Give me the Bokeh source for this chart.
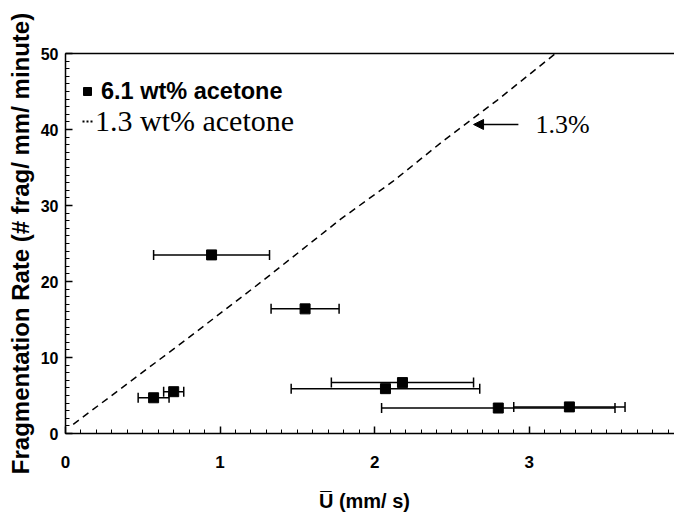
from bokeh.plotting import figure
from bokeh.models import (ColumnDataSource, Whisker, TeeHead, Arrow, NormalHead, Label,
                          LinearAxis, Legend, LegendItem, FixedTicker, Range1d)
from bokeh.embed import file_html
from bokeh.resources import INLINE

# ---- data ----
velocity = [0.57, 0.70, 0.945, 1.55, 2.07, 2.18, 2.80, 3.26]      # mm/s
frag_rate = [4.7, 5.5, 23.5, 16.4, 5.9, 6.7, 3.35, 3.5]           # # frag / mm / minute
velocity_err = [0.10, 0.065, 0.375, 0.22, 0.61, 0.46, 0.755, 0.36]

fit13_x = [0.05, 0.77, 1.27, 1.78, 2.12, 2.45, 2.79, 3.17]
fit13_y = [1.2, 12.2, 20.0, 28.2, 33.2, 38.6, 43.8, 50.0]

x_ticks = [0, 1, 2, 3, 4]
y_ticks = [0, 10, 20, 30, 40, 50]

SANS = "Liberation Sans"
SERIF = "Liberation Serif"

src = ColumnDataSource(dict(
    x=velocity, y=frag_rate,
    lo=[v - e for v, e in zip(velocity, velocity_err)],
    hi=[v + e for v, e in zip(velocity, velocity_err)],
))

p = figure(width=674, height=515, x_range=Range1d(0, 3.94), y_range=Range1d(0, 50),
           output_backend="svg", toolbar_location=None,
           min_border_left=65, min_border_right=0, min_border_top=53, min_border_bottom=82)
p.outline_line_color = None
p.grid.visible = False
p.background_fill_color = "white"
p.border_fill_color = "white"

# axes
xa = p.xaxis[0]
xa.ticker = FixedTicker(ticks=x_ticks,
                        minor_ticks=[i / 10 for i in range(x_ticks[0] * 10, x_ticks[-1] * 10 + 1)])
ya = p.yaxis[0]
ya.ticker = FixedTicker(ticks=y_ticks,
                        minor_ticks=list(range(y_ticks[0], y_ticks[-1] + 1)))
for ax in (xa, ya):
    ax.axis_line_width = 1.5
    ax.axis_line_color = "black"
    ax.major_tick_in = 7
    ax.major_tick_out = 0
    ax.minor_tick_in = 4
    ax.minor_tick_out = 0
    ax.major_tick_line_width = 1.5
    ax.minor_tick_line_width = 1
    ax.major_tick_line_color = "black"
    ax.minor_tick_line_color = "black"
    ax.major_label_text_font = SANS
    ax.major_label_text_font_style = "bold"
    ax.major_label_text_font_size = "17px"
    ax.major_label_text_color = "black"
    ax.axis_label_text_font = SANS
    ax.axis_label_text_font_style = "bold"
    ax.axis_label_text_color = "black"

xa.axis_label = "U\u0305   (mm/ s)"
xa.axis_label_text_font_size = "20px"
xa.major_label_standoff = 22
xa.axis_label_standoff = 19

ya.axis_label = "Fragmentation Rate (# frag/ mm/ minute)"
ya.axis_label_text_font_size = "24px"
ya.major_label_text_font_size = "16px"
ya.major_label_standoff = 7
ya.axis_label_standoff = 4

# top border
top = LinearAxis(ticker=FixedTicker(ticks=[]), axis_line_width=1.5, axis_line_color="black",
                 major_tick_line_color=None, minor_tick_line_color=None,
                 major_label_text_font_size="0px")
p.add_layout(top, "above")

# dashed 1.3 wt% line
line_r = p.line(fit13_x, fit13_y, line_color="black", line_width=1.5, line_dash="7 5")
# dotted sample of the same series, used only for the legend
dots_r = p.line(fit13_x, fit13_y, line_color="black", line_width=1.8, line_dash="2 2",
                visible=False)

# error bars + squares (6.1 wt%)
wh = Whisker(source=src, base="y", lower="lo", upper="hi", dimension="width",
             line_color="black", line_width=1.5,
             lower_head=TeeHead(size=10, line_width=1.5, line_color="black"),
             upper_head=TeeHead(size=10, line_width=1.5, line_color="black"))
p.add_layout(wh)
sq = p.scatter("x", "y", source=src, marker="square", size=10, color="black")

leg1 = Legend(items=[LegendItem(label="6.1 wt% acetone", renderers=[sq])],
              location=(12, 328), padding=0, margin=0, spacing=0,
              glyph_width=20, glyph_height=28, label_height=28, label_standoff=4,
              label_text_font=SANS, label_text_font_style="bold", label_text_font_size="23.5px",
              label_text_color="black",
              background_fill_alpha=0, border_line_color=None)
leg2 = Legend(items=[LegendItem(label="1.3 wt% acetone", renderers=[dots_r])],
              location=(17, 294), padding=0, margin=0, spacing=0,
              glyph_width=12, glyph_height=36, label_height=36, label_standoff=1,
              label_text_font=SERIF, label_text_font_size="30px",
              label_text_color="black",
              background_fill_alpha=0, border_line_color=None)
p.add_layout(leg1)
p.add_layout(leg2)

# annotation arrow "1.3%"
p.add_layout(Arrow(end=NormalHead(size=10, fill_color="black", line_color="black", line_width=1),
                   x_start=2.93, y_start=40.66, x_end=2.64, y_end=40.66,
                   line_color="black", line_width=1.5))
p.add_layout(Label(x=3.04, y=40.66, text="1.3%", text_baseline="middle",
                   text_font=SERIF, text_font_size="26px", text_color="black"))

open("out.html", "w").write(file_html(p, INLINE))
